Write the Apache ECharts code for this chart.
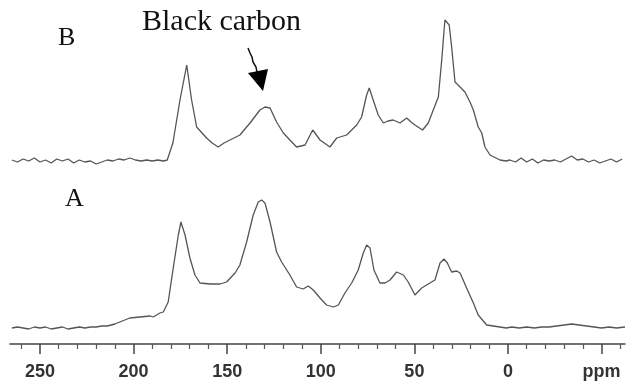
<!DOCTYPE html>
<html><head><meta charset="utf-8">
<script src="https://cdn.jsdelivr.net/npm/echarts@6/dist/echarts.min.js"></script>
<style>html,body{margin:0;padding:0;background:#fff}#c{width:628px;height:381px}</style>
</head><body><div id="c"></div>
<script>
// Spectrum B (top) : chemical shift (ppm) and intensity above baseline (arb. units)
const B_ppm = [265,262,259,256,253,250,247,244,241,238,235,232,229,226,223,220,217,214,211,208,205,202,199,196,193,190,187,184,182,
  179,175.2,171.6,169,166.3,161,158,154.8,151.7,148.5,143.2,137.8,132.5,129.8,127.1,123.6,120,116.5,112.9,108.4,104.3,100.4,95.1,91.5,86.2,80.8,78.2,75.5,74.1,72,69.3,66.6,64.1,61.3,57.7,54.1,51.8,49.7,45.6,42.6,39.9,37.2,35.4,33.7,31.4,30.1,28.3,25.6,23,20.3,18.5,15.9,14,12.3,9.6,4.3,
  1,-1,-4,-7,-10,-13,-16,-19,-22,-25,-28,-31,-34,-37,-40,-43,-46,-49,-52,-55,-58,-61,-62.5];
const B_int = [1,-1,2,0,3,-1,1,-2,2,0,2,-2,1,-1,0,-3,-1,1,0,2,1,3,1,0,1,0,1,0,1,
  18,61,96,61,34,23,18,14,18,21,26,38,51,54,53,39,28,21,14,16,31,21,14,23,26,36,44,66,73,61,46,38,40,41,38,43,39,36,31,38,51,64,101,141,136,114,79,74,69,59,51,34,28,14,6,1,
  0,1,-1,3,-1,2,-2,1,0,1,-1,2,5,1,2,-1,1,-2,0,2,-1,2];
// Spectrum A (bottom)
const A_ppm = [265,262,259,256,253,250,247,244,241,238,235,232,229,226,223,220,217,214,210,202,196.6,191.2,189.5,185.9,184.1,181.5,
  178.8,176.1,174.7,172.5,169.9,167.2,164.5,159.2,153.8,150.3,145.8,143.2,139.6,136.1,133.4,131.6,129.8,127.1,123.6,120.9,116.5,112.9,109.4,106.7,104,100.4,96.9,93.3,90.6,87.1,83.5,80,77.3,75.5,73.7,71.6,68.4,65.7,63,59.5,55.9,53.3,49.7,46.1,41.7,39,36.3,34.2,32.4,30.1,27.4,25.6,22.1,18.5,15.9,15,11.4,4.3,
  1,-2,-6,-10,-14,-18,-22,-26,-30,-34,-38,-42,-46,-50,-54,-58,-62.5];
const A_int = [0,1,0,-1,1,0,1,-1,0,1,-1,0,1,0,1,1,2,2,4,10,11,12,11,15,16,26,
  60,93,106,93,70,53,45,44,44,46,55,63,86,113,126,128,125,106,76,66,53,41,39,42,38,30,23,21,23,35,45,58,75,83,80,58,45,45,48,56,53,46,33,40,45,48,65,69,65,56,57,55,40,25,13,11,3,1,
  0,1,0,1,0,1,1,2,3,4,3,2,1,0,1,0,1];
const majorTicks = [250,200,150,100,50,0,-50];
const minorTicks = [260,240,230,220,210,190,180,170,160,140,130,120,110,90,80,70,60,40,30,20,10,-10,-20,-30,-40,-60];
const X_MIN = -62.5, X_MAX = 266;

const zip = (x, y) => x.map((v, i) => [v, y[i]]);
const chart = echarts.init(document.getElementById('c'), null, {renderer: 'canvas'});
const lineStyle = {color: '#555', width: 1.3};
chart.setOption({
  animation: false,
  grid: [
    {left: 10, right: 3, top: 10, bottom: 206},
    {left: 10, right: 3, top: 190, bottom: 37}
  ],
  xAxis: [
    {gridIndex: 0, type: 'value', min: X_MIN, max: X_MAX, inverse: true, show: false},
    {gridIndex: 1, type: 'value', min: X_MIN, max: X_MAX, inverse: true, position: 'bottom',
      axisLine: {show: true, onZero: false, lineStyle: {color: '#444', width: 1.5}},
      axisTick: {show: true, customValues: majorTicks, length: 10, lineStyle: {color: '#444', width: 1.5}},
      axisLabel: {show: true, customValues: majorTicks, margin: 19, color: '#333',
        fontFamily: 'Liberation Sans, Arial, sans-serif', fontSize: 18, fontWeight: 'bold',
        formatter: v => v === -50 ? 'ppm' : String(v)},
      splitLine: {show: false}},
    {gridIndex: 1, type: 'value', min: X_MIN, max: X_MAX, inverse: true, position: 'bottom',
      axisLine: {show: false, onZero: false},
      axisTick: {show: true, customValues: minorTicks, length: 5, lineStyle: {color: '#555', width: 1.2}},
      axisLabel: {show: false}, splitLine: {show: false}}
  ],
  yAxis: [
    {gridIndex: 0, type: 'value', min: -14, max: 151, show: false},
    {gridIndex: 1, type: 'value', min: -16, max: 138, show: false}
  ],
  series: [
    {type: 'line', xAxisIndex: 0, yAxisIndex: 0, data: zip(B_ppm, B_int), showSymbol: false, lineStyle, silent: true},
    {type: 'line', xAxisIndex: 1, yAxisIndex: 1, data: zip(A_ppm, A_int), showSymbol: false, lineStyle, silent: true}
  ],
  graphic: [
    {type: 'text', left: 58, top: 25, style: {text: 'B', font: '26px "Liberation Serif", "Times New Roman", serif', fill: '#111'}},
    {type: 'text', left: 65, top: 186, style: {text: 'A', font: '26px "Liberation Serif", "Times New Roman", serif', fill: '#111'}},
    {type: 'text', left: 142, top: 7, style: {text: 'Black carbon', font: '30px "Liberation Serif", "Times New Roman", serif', fill: '#111'}},
    {type: 'polyline', shape: {points: [[248,48],[250,53],[252,57],[253,62],[256,67],[257,72]]}, style: {stroke: '#111', lineWidth: 1.5, fill: null}},
    {type: 'polygon', shape: {points: [[248,73],[268,69],[263,91]]}, style: {fill: '#000'}}
  ]
});
</script></body></html>
